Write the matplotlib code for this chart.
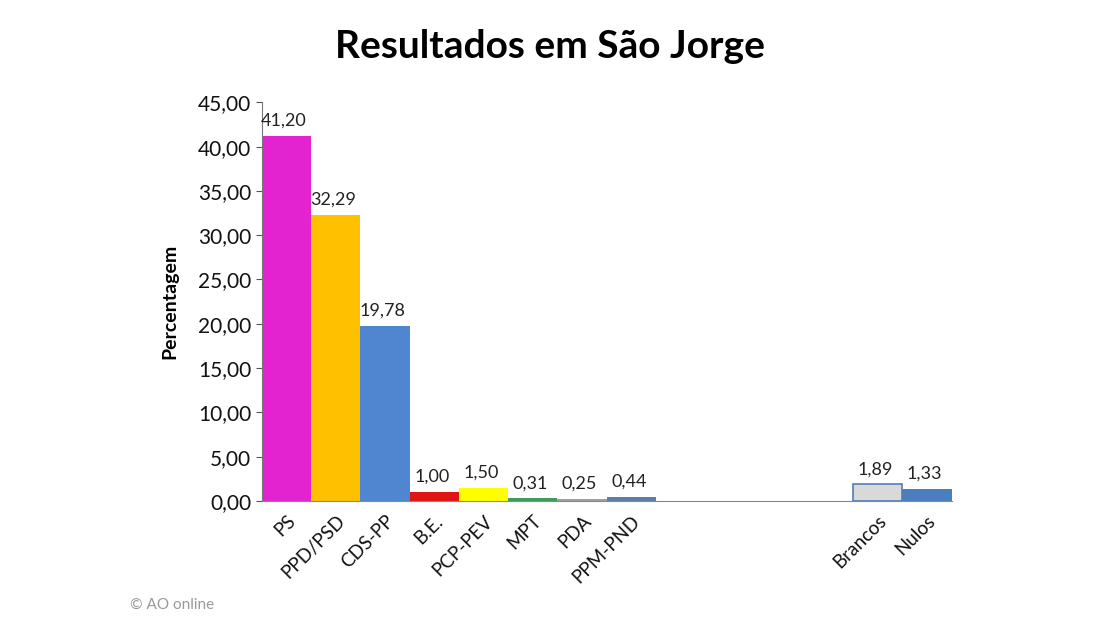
import numpy as np
import matplotlib.pyplot as plt
from matplotlib.ticker import FuncFormatter

plt.rcParams['font.family'] = ['Lato', 'DejaVu Sans']

parties = ["PS", "PPD/PSD", "CDS-PP", "B.E.", "PCP-PEV", "MPT", "PDA", "PPM-PND"]
party_values = [41.20, 32.29, 19.78, 1.00, 1.50, 0.31, 0.25, 0.44]
others = ["Brancos", "Nulos"]
other_values = [1.89, 1.33]
n_gap = 4
colors = ["#E322D0", "#FFC000", "#4F86CF", "#E01414", "#FFFF00", "#3E9B5E", "#A0A0A0", "#5C7FA8",
          "#D9D9D9", "#4A7EBF"]
edges = ["none"] * 8 + ["#4F7EB5", "none"]

labels = parties + others
values = party_values + other_values
pos = np.concatenate([np.arange(len(parties)), len(parties) + n_gap + np.arange(len(others))])

fig = plt.figure(figsize=(11, 6.2), dpi=100)
ax = fig.add_axes([0.238, 0.192, 0.627, 0.643])

bars = ax.bar(pos, values, width=1.0, color=colors, edgecolor=edges, linewidth=1.2)
for p, v in zip(pos, values):
    ax.text(p - 0.05, v + 0.8, f"{v:.2f}".replace('.', ','), ha='center', va='bottom',
            fontsize=13, color='#222222')

ax.set_xlim(-0.5, pos[-1] + 0.5)
ax.set_ylim(0, 45)
ax.set_yticks(np.arange(0, 46, 5))
ax.yaxis.set_major_formatter(FuncFormatter(lambda y, _: f"{y:.2f}".replace('.', ',')))
ax.tick_params(axis='y', labelsize=15, length=4, direction='out', colors='#555555', labelcolor='#111111')
ax.set_xticks(pos)
ax.set_xticklabels(labels, rotation=45, ha='right', rotation_mode='anchor', fontsize=13.5, color='#111111')
ax.tick_params(axis='x', length=0, pad=8)

for s in ['top', 'right']:
    ax.spines[s].set_visible(False)
ax.spines['left'].set_color('#777777')
ax.spines['bottom'].set_color('#888888')

ax.set_ylabel("Percentagem", fontsize=14, fontweight='bold', labelpad=14)
fig.text(0.5, 0.925, "Resultados em São Jorge", ha='center', va='center', fontsize=28, fontweight='bold')
fig.text(0.118, 0.025, "© AO online", ha='left', va='center', fontsize=11, color='#999999')

fig.savefig("out.png", dpi=100)
